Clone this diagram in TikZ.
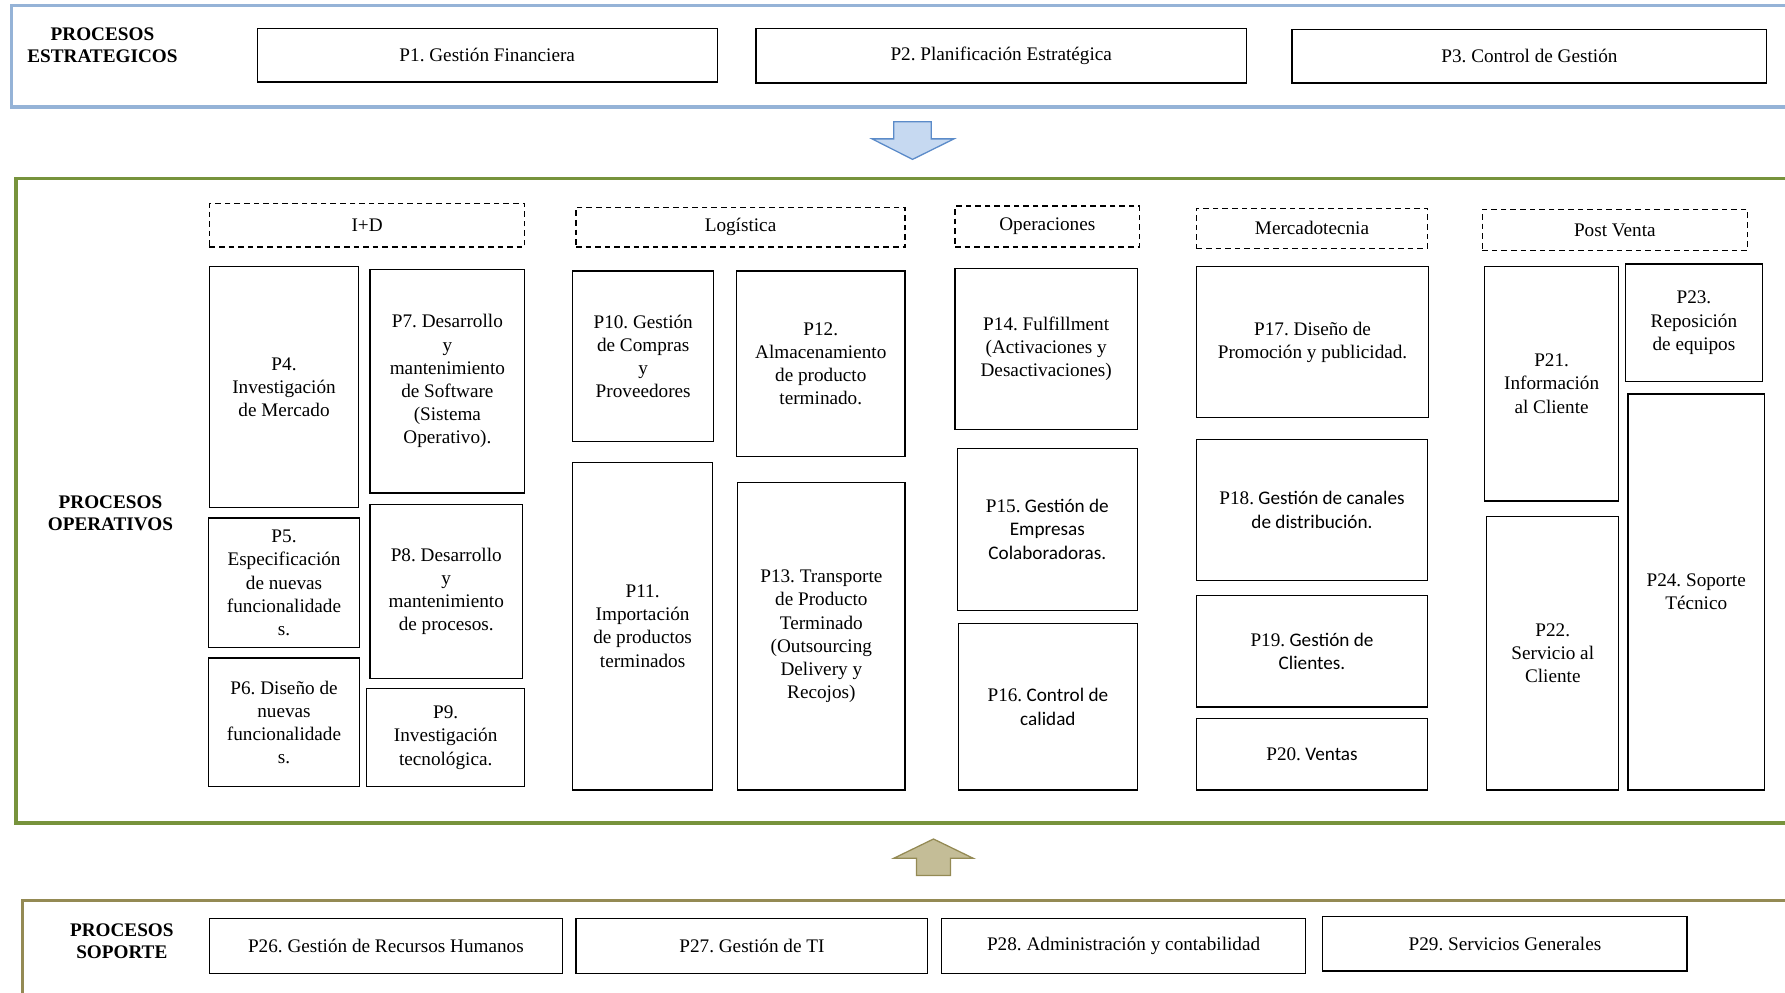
\documentclass[tikz,border=0pt]{standalone}
\usepackage{fontspec}
\setmainfont{Liberation Serif}
\newfontfamily\calibri{Carlito}
\frenchspacing
\definecolor{estrablue}{HTML}{95B3D7}
\definecolor{opergreen}{HTML}{77933C}
\definecolor{soportetan}{HTML}{948A54}
\definecolor{flechablue}{HTML}{C6D9F1}
\definecolor{flechaborde}{HTML}{5B8BC9}
\definecolor{flechakhaki}{HTML}{C4BD97}

\begin{document}
\begin{tikzpicture}
[
proc/.style={
% The shape:
rectangle,
% The border:
draw=black, line width=0.8pt,
% The text:
align=center, inner sep=2pt,
font=\fontsize{12}{14.5}\selectfont
},
area/.style={
% The shape:
rectangle,
% The border:
draw=black, line width=0.8pt,
dash pattern=on 3.5pt off 2.5pt, % dashed header
% The text:
font=\fontsize{12}{14.5}\selectfont
},
titulo/.style={
align=center,
font=\fontsize{12}{13.5}\selectfont\bfseries
},
marco/.style={
line width=2pt, fill=white
}
]
    \useasboundingbox (0,0) rectangle (39.2,-21.8);
    \clip (0,0) rectangle (39.2,-21.8);

    % frames
    \draw[marco, draw=estrablue] (0.25,-0.125) rectangle (39.8,-2.35);
    \draw[marco, draw=opergreen] (0.35,-3.925) rectangle (39.8,-18.075);
    \draw[marco, draw=soportetan] (0.5,-19.775) rectangle (39.8,-22.5);

    % block arrows
    \draw[draw=flechaborde, fill=flechablue, line width=0.8pt] (19.625,-2.675) -- (20.45,-2.675) -- (20.45,-3.05) -- (20.95,-3.05) -- (20.04,-3.5) -- (19.15,-3.05) -- (19.625,-3.05) -- cycle;
    \draw[draw=soportetan, fill=flechakhaki, line width=0.8pt] (20.125,-19.225) -- (20.875,-19.225) -- (20.875,-18.85) -- (21.375,-18.85) -- (20.5,-18.425) -- (19.625,-18.85) -- (20.125,-18.85) -- cycle;

    % estrategicos
    \node[titulo] (estra) at (2.25,-1.0) {PROCESOS\\ESTRATEGICOS};
    \node[proc, minimum width=10.1cm, minimum height=1.175cm] (p1) at (10.7,-1.2125) {P1. Gestión Financiera};
    \node[proc, minimum width=10.775cm, minimum height=1.2cm] (p2) at (21.9875,-1.225) {P2. Planificación Estratégica};
    \node[proc, minimum width=10.425cm, minimum height=1.175cm] (p3) at (33.5875,-1.2375) {P3. Control de Gestión};

    % operativos
    \node[titulo] (oper) at (2.425,-11.275) {PROCESOS\\OPERATIVOS};
    \node[area, minimum width=6.925cm, minimum height=0.95cm] (id) at (8.0625,-4.95) {I+D};
    \node[area, minimum width=7.225cm, minimum height=0.875cm] (logis) at (16.2625,-4.9875) {Logística};
    \node[area, minimum width=4.05cm, minimum height=0.9cm] (opera) at (23.0,-4.975) {Operaciones};
    \node[area, minimum width=5.075cm, minimum height=0.875cm] (merca) at (28.8125,-5.0125) {Mercadotecnia};
    \node[area, minimum width=5.825cm, minimum height=0.9cm] (post) at (35.4625,-5.05) {Post Venta};

    \node[proc, minimum width=3.275cm, minimum height=5.3cm] (p4) at (6.2375,-8.5) {P4.\\Investigación\\de Mercado};
    \node[proc, minimum width=3.325cm, minimum height=2.85cm] (p5) at (6.2375,-12.8) {P5.\\Especificación\\de nuevas\\funcionalidade\\s.};
    \node[proc, minimum width=3.325cm, minimum height=2.825cm] (p6) at (6.2375,-15.8625) {P6. Diseño de\\nuevas\\funcionalidade\\s.};
    \node[proc, minimum width=3.4cm, minimum height=4.9cm] (p7) at (9.825,-8.375) {P7. Desarrollo\\y\\mantenimiento\\de Software\\(Sistema\\Operativo).};
    \node[proc, minimum width=3.35cm, minimum height=3.825cm] (p8) at (9.8,-12.9875) {P8. Desarrollo\\y\\mantenimiento\\de procesos.};
    \node[proc, minimum width=3.475cm, minimum height=2.15cm] (p9) at (9.7875,-16.2) {P9.\\Investigación\\tecnológica.};

    \node[proc, minimum width=3.1cm, minimum height=3.75cm] (p10) at (14.125,-7.825) {P10. Gestión\\de Compras\\y\\Proveedores};
    \node[proc, minimum width=3.075cm, minimum height=7.2cm] (p11) at (14.1125,-13.75) {P11.\\Importación\\de productos\\terminados};
    \node[proc, minimum width=3.7cm, minimum height=4.075cm] (p12) at (18.025,-7.9875) {P12.\\Almacenamiento\\de producto\\terminado.};
    \node[proc, minimum width=3.675cm, minimum height=6.75cm] (p13) at (18.0375,-13.975) {P13. Transporte\\de Producto\\Terminado\\(Outsourcing\\Delivery y\\Recojos)};

    \node[proc, minimum width=4.0cm, minimum height=3.525cm] (p14) at (22.975,-7.6625) {P14. Fulfillment\\(Activaciones y\\Desactivaciones)};
    \node[proc, minimum width=3.95cm, minimum height=3.55cm] (p15) at (23.0,-11.625) {P15.{\calibri{} Gestión de}\\{\calibri Empresas}\\{\calibri Colaboradoras.}};
    \node[proc, minimum width=3.925cm, minimum height=3.65cm] (p16) at (23.0125,-15.525) {P16.{\calibri{} Control de}\\{\calibri calidad}};

    \node[proc, minimum width=5.1cm, minimum height=3.325cm] (p17) at (28.825,-7.5125) {P17. Diseño de\\Promoción y publicidad.};
    \node[proc, minimum width=5.075cm, minimum height=3.1cm] (p18) at (28.8125,-11.2) {P18.{\calibri{} Gestión de canales}\\{\calibri de distribución.}};
    \node[proc, minimum width=5.075cm, minimum height=2.45cm] (p19) at (28.8125,-14.3) {P19.{\calibri{} Gestión de}\\{\calibri Clientes.}};
    \node[proc, minimum width=5.075cm, minimum height=1.575cm] (p20) at (28.8125,-16.5625) {P20.{\calibri{} Ventas}};

    \node[proc, minimum width=2.95cm, minimum height=5.15cm] (p21) at (34.075,-8.425) {P21.\\Información\\al Cliente};
    \node[proc, minimum width=2.9cm, minimum height=6.0cm] (p22) at (34.1,-14.35) {P22.\\Servicio al\\Cliente};
    \node[proc, minimum width=3.0cm, minimum height=2.575cm] (p23) at (37.2,-7.0875) {P23.\\Reposición\\de equipos};
    \node[proc, minimum width=3.0cm, minimum height=8.7cm] (p24) at (37.25,-13.0) {P24. Soporte\\Técnico};

    % soporte
    \node[titulo] (sopo) at (2.675,-20.675) {PROCESOS\\SOPORTE};
    \node[proc, minimum width=7.75cm, minimum height=1.2cm] (p26) at (8.475,-20.775) {P26. Gestión de Recursos Humanos};
    \node[proc, minimum width=7.725cm, minimum height=1.2cm] (p27) at (16.5125,-20.775) {P27. Gestión de TI};
    \node[proc, minimum width=8.0cm, minimum height=1.2cm] (p28) at (24.675,-20.775) {P28. Administración y contabilidad};
    \node[proc, minimum width=8.0cm, minimum height=1.2cm] (p29) at (33.05,-20.725) {P29. Servicios Generales};
\end{tikzpicture}
\end{document}
